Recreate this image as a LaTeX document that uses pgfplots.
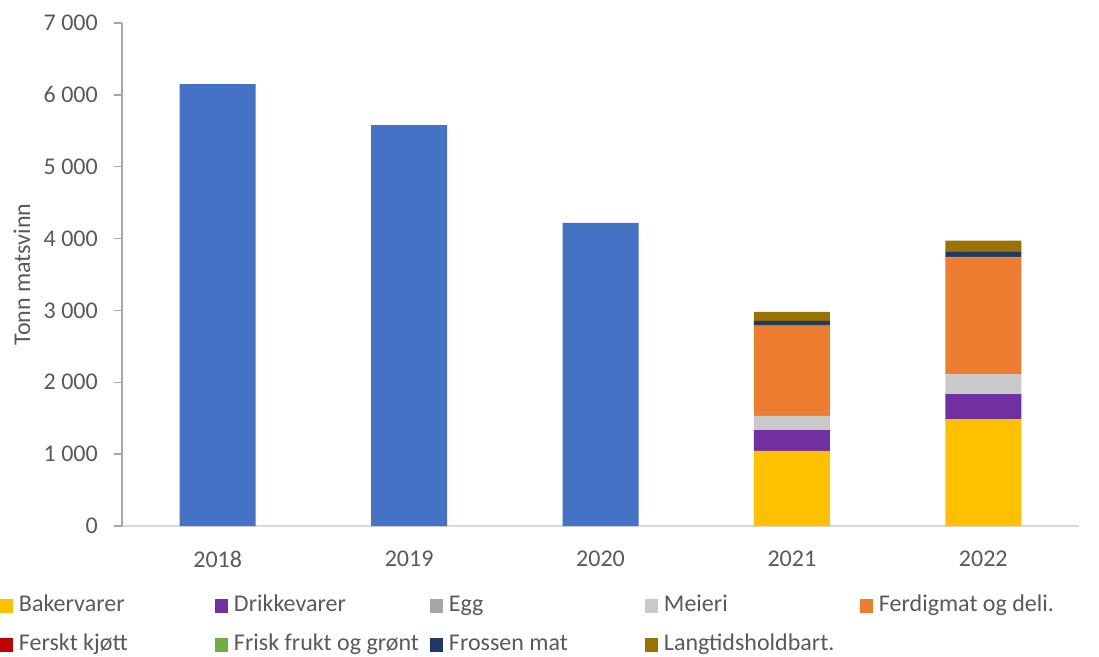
\documentclass[border=0pt]{standalone}
\usepackage{pgfplots}
\pgfplotsset{compat=1.18}
\usepackage{fontspec}
\setmainfont{Carlito}
\definecolor{txt}{HTML}{595959}
\definecolor{cblue}{HTML}{4472C4}
\definecolor{cbaker}{HTML}{FFC000}
\definecolor{cdrikke}{HTML}{7030A0}
\definecolor{cegg}{HTML}{A5A5A5}
\definecolor{cmeieri}{HTML}{C9C9C9}
\definecolor{cferdig}{HTML}{ED7D31}
\definecolor{ckjott}{HTML}{C00000}
\definecolor{cfrukt}{HTML}{70AD47}
\definecolor{cfrossen}{HTML}{203864}
\definecolor{clang}{HTML}{997300}
\newcommand{\lf}{\fontsize{24}{28.8}\selectfont}
\newcommand{\legtxt}[1]{\makebox[202pt][l]{\hspace{6pt}#1}}
\begin{document}
\lf
\begin{tikzpicture}
\begin{axis}[
  scale only axis, width=957pt, height=503pt,
  ybar stacked, bar width=76pt,
  xmin=-0.5, xmax=4.5, ymin=0, ymax=7000,
  xtick={0,1,2,3,4}, xticklabels={2018,2019,2020,2021,2022},
  ytick={0,1000,...,7000},
  axis x line*=bottom, axis y line*=left,
  x axis line style={draw=black!15, line width=1.3pt},
  y axis line style={draw=black!35, line width=1.3pt},
  xtick style={draw=none},
  ytick style={draw=black!35, line width=1.3pt},
  tick align=outside, major tick length=8pt,
  /pgf/number format/assume math mode=true,
  /pgf/number format/1000 sep={\ },
  tick label style={font=\lf, text=txt},
  xticklabel style={inner sep=0pt, yshift=-17pt},
  yticklabel style={inner sep=0pt, xshift=-16pt},
  ylabel={Tonn matsvinn},
  ylabel style={font=\lf, text=txt, at={(rel axis cs:0,0.5)}, anchor=center, rotate=0, yshift=100pt},
  legend columns=5,
  legend cell align=left,
  legend style={at={(rel axis cs:0,0)}, anchor=north west, xshift=-122pt, yshift=-69pt,
    draw=none, fill=none, inner sep=0pt, outer sep=0pt, font=\lf, text=txt,
    /tikz/column sep=0pt, /tikz/row sep=18pt,
    nodes={inner sep=0pt, text height=16pt, text depth=5pt}},
  legend image code/.code={\fill[#1,draw=none] (0pt,-7pt) rectangle (13pt,7pt);},
  every axis plot/.append style={draw=none},
]
\addplot[fill=cbaker] coordinates {(0,0) (1,0) (2,0) (3,1044) (4,1489)}; \addlegendentry{\legtxt{Bakervarer}}
\addplot[fill=cdrikke] coordinates {(0,0) (1,0) (2,0) (3,292) (4,348)}; \addlegendentry{\legtxt{Drikkevarer}}
\addplot[fill=cegg] coordinates {(0,0) (1,0) (2,0) (3,0) (4,0)}; \addlegendentry{\legtxt{Egg}}
\addplot[fill=cmeieri] coordinates {(0,0) (1,0) (2,0) (3,195) (4,274)}; \addlegendentry{\legtxt{Meieri}}
\addplot[fill=cferdig] coordinates {(0,0) (1,0) (2,0) (3,1252) (4,1628)}; \addlegendentry{\legtxt{Ferdigmat og deli.}}
\addplot[fill=ckjott] coordinates {(0,0) (1,0) (2,0) (3,3) (4,2)}; \addlegendentry{\legtxt{Ferskt kjøtt}}
\addplot[fill=cfrukt] coordinates {(0,0) (1,0) (2,0) (3,14) (4,4)}; \addlegendentry{\legtxt{Frisk frukt og grønt}}
\addplot[fill=cfrossen] coordinates {(0,0) (1,0) (2,0) (3,55) (4,70)}; \addlegendentry{\legtxt{Frossen mat}}
\addplot[fill=clang] coordinates {(0,0) (1,0) (2,0) (3,125) (4,156)}; \addlegendentry{\legtxt{Langtidsholdbart.}}
\addplot[fill=cblue, forget plot] coordinates {(0,6151) (1,5580) (2,4217) (3,0) (4,0)};
\coordinate (O) at (rel axis cs:0,0);
\end{axis}
\pgfresetboundingbox
\useasboundingbox (O) ++(-122pt,-130pt) rectangle ++(1099pt,656pt);
\end{tikzpicture}
\end{document}
